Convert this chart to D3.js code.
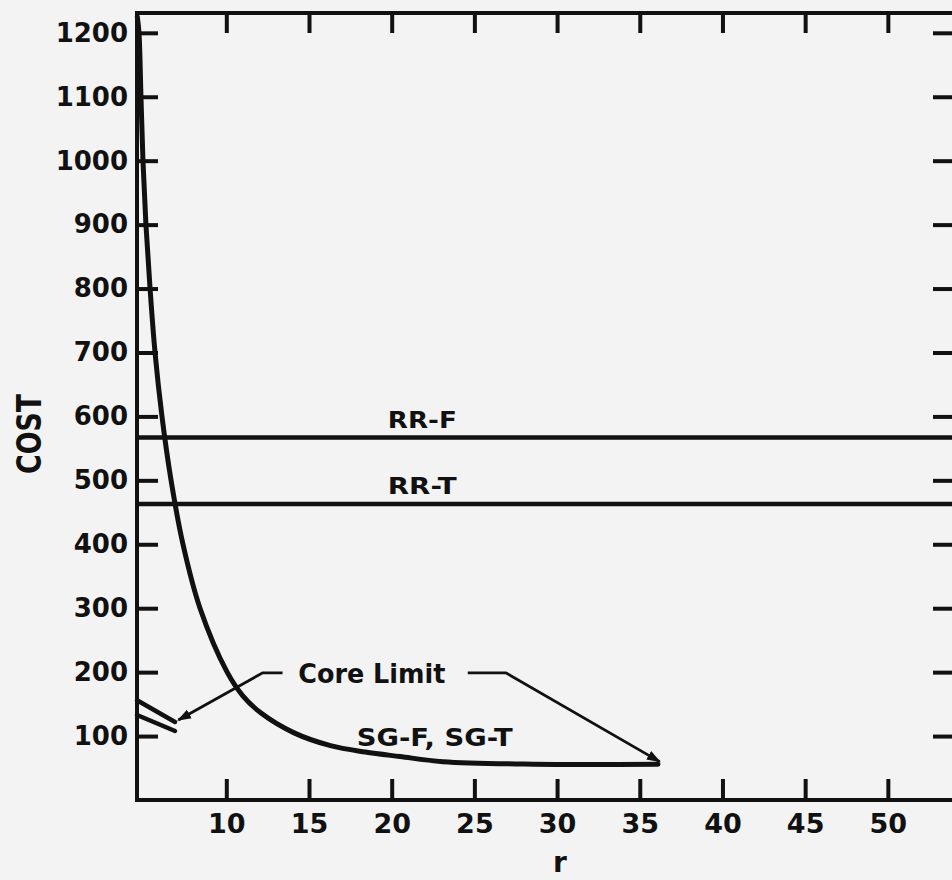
<!DOCTYPE html>
<html>
<head>
<meta charset="utf-8">
<script src="https://cdn.jsdelivr.net/npm/d3@7"></script>
<style>
  html, body { margin: 0; padding: 0; background: #f3f3f3; }
  svg { display: block; }
  text { font-family: "DejaVu Sans", sans-serif; font-weight: bold; fill: #111; }
</style>
</head>
<body>
<svg id="chart" width="952" height="880"></svg>
<script>
// ---------------- data ----------------
const yTicks = [100, 200, 300, 400, 500, 600, 700, 800, 900, 1000, 1100, 1200];
const xTicks = [10, 15, 20, 25, 30, 35, 40, 45, 50];

// SG-F, SG-T cost curve (r, cost)
const sgR    = [4.62, 4.72, 4.84, 4.96, 5.14, 5.39, 5.69, 6.11, 6.66, 7.38, 8.41, 10.05, 11.0, 12.1, 14.1, 16.3, 18.4, 20.5, 23.1, 28.6, 36.1];
const sgCost = [1225, 1200, 1100, 1000, 900, 800, 700, 600, 500, 400, 300, 200, 163, 136, 105, 85, 75, 68, 60, 56, 56];

// Core limit short segments at small r
const coreLimit1R = [4.6, 6.9], coreLimit1Cost = [156, 122];
const coreLimit2R = [4.6, 6.9], coreLimit2Cost = [133, 108];

// RR-F and RR-T constant costs
const rrNames = ["RR-F", "RR-T"];
const rrCost  = [567, 463];

// ---------------- layout ----------------
const svg = d3.select("#chart");
const X0 = 137, X1 = 954, Y0 = 800, Y1 = 13;
const x = d3.scaleLinear().domain([4.6, 54]).range([X0, X1]);
const y = d3.scaleLinear().domain([0, 1231]).range([Y0, Y1]);
const ink = "#111";

// axes with inward ticks
const gL = svg.append("g").attr("transform", `translate(${X0},0)`)
  .call(d3.axisLeft(y).tickValues(yTicks).tickFormat(d3.format("d"))
    .tickSizeInner(-21).tickSizeOuter(0).tickPadding(9));
const gR = svg.append("g").attr("transform", `translate(${X1},0)`)
  .call(d3.axisRight(y).tickValues(yTicks).tickSizeInner(-21).tickSizeOuter(0).tickFormat(""));
const gB = svg.append("g").attr("transform", `translate(0,${Y0})`)
  .call(d3.axisBottom(x).tickValues(xTicks).tickFormat(d3.format("d"))
    .tickSizeInner(-21).tickSizeOuter(0).tickPadding(14));
const gT = svg.append("g").attr("transform", `translate(0,${Y1})`)
  .call(d3.axisTop(x).tickValues(xTicks).tickSizeInner(-20).tickSizeOuter(0).tickFormat(""));

[gL, gR, gB, gT].forEach(g => {
  g.select(".domain").remove();
  g.selectAll(".tick line").attr("stroke", ink).attr("stroke-width", 4);
  g.attr("font-family", null).attr("font-size", null);
});
gL.selectAll(".tick text").attr("font-size", 26).attr("fill", ink);
gB.selectAll(".tick text").attr("font-size", 27).attr("fill", ink);

// frame (left, top, bottom, right)
svg.append("path")
  .attr("d", `M${X1 + 10},${Y1}H${X0}V${Y0}H${X1 + 10}M${X1},${Y1}V${Y0}`)
  .attr("fill", "none").attr("stroke", ink).attr("stroke-width", 4)
  .attr("stroke-linecap", "square");

// axis titles
svg.append("text")
  .attr("transform", `translate(41,434) rotate(-90)`)
  .attr("text-anchor", "middle")
  .attr("font-size", 33)
  .attr("textLength", 80).attr("lengthAdjust", "spacingAndGlyphs")
  .text("COST");
svg.append("text")
  .attr("x", 560).attr("y", 872)
  .attr("text-anchor", "middle")
  .attr("font-size", 28)
  .text("r");

// RR lines
svg.selectAll(".rr").data(rrCost).join("line")
  .attr("class", "rr")
  .attr("x1", X0).attr("x2", X1)
  .attr("y1", d => y(d)).attr("y2", d => y(d))
  .attr("stroke", ink).attr("stroke-width", 4.5);
svg.selectAll(".rrlab").data(rrNames).join("text")
  .attr("class", "rrlab")
  .attr("x", x(21.85))
  .attr("y", (d, i) => y(rrCost[i]) - 10)
  .attr("text-anchor", "middle")
  .attr("font-size", 23)
  .attr("textLength", 69).attr("lengthAdjust", "spacingAndGlyphs")
  .text(d => d);

// SG curve
const line = d3.line().x(d => x(d[0])).y(d => y(d[1])).curve(d3.curveCatmullRom.alpha(0.5));
svg.append("path")
  .datum(d3.zip(sgR, sgCost))
  .attr("d", line)
  .attr("fill", "none").attr("stroke", ink).attr("stroke-width", 5)
  .attr("stroke-linecap", "round");

// core limit short segments
[[coreLimit1R, coreLimit1Cost], [coreLimit2R, coreLimit2Cost]].forEach(([rs, cs]) => {
  svg.append("path")
    .datum(d3.zip(rs, cs))
    .attr("d", d3.line().x(d => x(d[0])).y(d => y(d[1])))
    .attr("fill", "none").attr("stroke", ink).attr("stroke-width", 4.5)
    .attr("stroke-linecap", "round");
});

// arrow marker
svg.append("defs").append("marker")
  .attr("id", "arr").attr("viewBox", "0 0 10 10")
  .attr("refX", 9).attr("refY", 5)
  .attr("markerWidth", 5).attr("markerHeight", 5)
  .attr("markerUnits", "strokeWidth")
  .attr("orient", "auto")
  .append("path").attr("d", "M0,1.5L10,5L0,8.5Z").attr("fill", ink);

// Core Limit annotation
svg.append("text")
  .attr("x", x(18.8)).attr("y", y(183))
  .attr("text-anchor", "middle")
  .attr("font-size", 26)
  .attr("textLength", 147).attr("lengthAdjust", "spacingAndGlyphs")
  .text("Core Limit");
const leader = d3.line().x(d => x(d[0])).y(d => y(d[1]));
svg.append("path")
  .datum([[13.4, 199], [12.2, 199], [7.1, 125]])
  .attr("d", leader)
  .attr("fill", "none").attr("stroke", ink).attr("stroke-width", 2.8)
  .attr("marker-end", "url(#arr)");
svg.append("path")
  .datum([[24.6, 199], [26.9, 199], [36.2, 60]])
  .attr("d", leader)
  .attr("fill", "none").attr("stroke", ink).attr("stroke-width", 2.8)
  .attr("marker-end", "url(#arr)");

// SG label
svg.append("text")
  .attr("x", x(22.6)).attr("y", y(85))
  .attr("text-anchor", "middle")
  .attr("font-size", 25)
  .attr("textLength", 156).attr("lengthAdjust", "spacingAndGlyphs")
  .text("SG-F, SG-T");
</script>
</body>
</html>
